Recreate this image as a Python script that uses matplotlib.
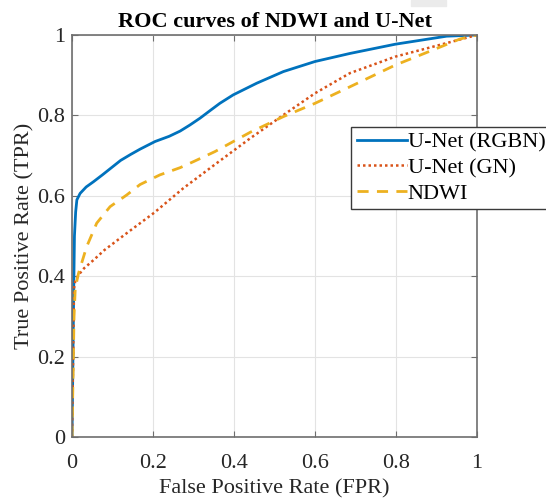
import numpy as np
import matplotlib
matplotlib.use('Agg')
import matplotlib.pyplot as plt
from matplotlib.patches import Rectangle

# ROC points
fpr_rgbn = [0, 0.004, 0.006, 0.009, 0.012, 0.02, 0.035, 0.053, 0.075, 0.1, 0.12, 0.145, 0.168,
            0.205, 0.24, 0.267, 0.291, 0.316, 0.341, 0.365, 0.398, 0.456, 0.522, 0.6, 0.686,
            0.798, 0.925, 1.0]
tpr_rgbn = [0, 0.35, 0.5, 0.56, 0.59, 0.606, 0.622, 0.635, 0.652, 0.672, 0.688, 0.703, 0.716,
            0.735, 0.748, 0.761, 0.776, 0.793, 0.812, 0.83, 0.851, 0.88, 0.909, 0.934, 0.954,
            0.977, 0.997, 1.0]

fpr_gn = [0, 0.005, 0.008, 0.016, 0.03, 0.053, 0.08, 0.135, 0.203, 0.275, 0.357, 0.44, 0.522,
          0.6, 0.686, 0.798, 0.892, 1.0]
tpr_gn = [0, 0.37, 0.388, 0.403, 0.42, 0.44, 0.465, 0.507, 0.558, 0.619, 0.681, 0.743, 0.801,
          0.855, 0.905, 0.946, 0.971, 1.0]

fpr_ndwi = [0, 0.005, 0.008, 0.016, 0.036, 0.061, 0.094, 0.135, 0.168, 0.217, 0.267, 0.3,
            0.353, 0.44, 0.522, 0.6, 0.686, 0.798, 0.892, 0.958, 1.0]
tpr_ndwi = [0, 0.3, 0.37, 0.407, 0.473, 0.532, 0.573, 0.602, 0.628, 0.652, 0.67, 0.685,
            0.71, 0.758, 0.797, 0.83, 0.871, 0.925, 0.963, 0.99, 1.0]

labels = ['U-Net (RGBN)', 'U-Net (GN)', 'NDWI']
ticks = [0, 0.2, 0.4, 0.6, 0.8, 1]
tick_labels = ['0', '0.2', '0.4', '0.6', '0.8', '1']

plt.rcParams['font.family'] = ['Liberation Serif', 'DejaVu Serif']
plt.rcParams['font.size'] = 16

fig = plt.figure(figsize=(5.46, 4.99), dpi=100)
ax = fig.add_axes([0.1319, 0.1242, 0.7417, 0.8057])

ax.plot(fpr_rgbn, tpr_rgbn, color='#0072BD', lw=2, label=labels[0])
ax.plot(fpr_gn, tpr_gn, color='#D95319', lw=1.8, ls=(0, (1, 1.2)), label=labels[1])
ax.plot(fpr_ndwi, tpr_ndwi, color='#EDB120', lw=2, ls=(0, (4, 3)), label=labels[2])

ax.set_xlim(0, 1)
ax.set_ylim(0, 1)
ax.set_xticks(ticks)
ax.set_xticklabels(tick_labels)
ax.set_yticks(ticks)
ax.set_yticklabels(tick_labels)
ax.grid(True, color='#e3e3e3', lw=0.8)
ax.set_axisbelow(True)
ax.tick_params(direction='in', top=True, right=True, length=4, width=0.8,
               colors='#6e6e6e', labelcolor='#262626', labelsize=16)
ax.tick_params(axis='x', pad=12)
ax.tick_params(axis='y', pad=5)
for s in ax.spines.values():
    s.set_color('#6e6e6e')
    s.set_linewidth(1.2)

ax.set_xlabel('False Positive Rate (FPR)', color='#262626', labelpad=5)
ax.set_ylabel('True Positive Rate (TPR)', color='#262626', labelpad=2)
ax.set_title('ROC curves of NDWI and U-Net', fontweight='bold', fontsize=16, pad=6)

leg = ax.legend(loc='upper left', bbox_to_anchor=(351 / 546, 1 - 126.7 / 499),
                bbox_transform=fig.transFigure, fontsize=16, frameon=True, fancybox=False,
                framealpha=1, edgecolor='#3a3a3a', borderpad=0.25, handlelength=2.25,
                handletextpad=0.05, labelspacing=0.22, borderaxespad=0)
leg.get_frame().set_linewidth(1.0)

# faint grey box at the very top of the picture
fig.patches.append(Rectangle((411 / 546, 1 - 6 / 499), 35 / 546, 6 / 499,
                             transform=fig.transFigure, color='#ebebeb', zorder=0))

fig.savefig('out.png', dpi=100)
